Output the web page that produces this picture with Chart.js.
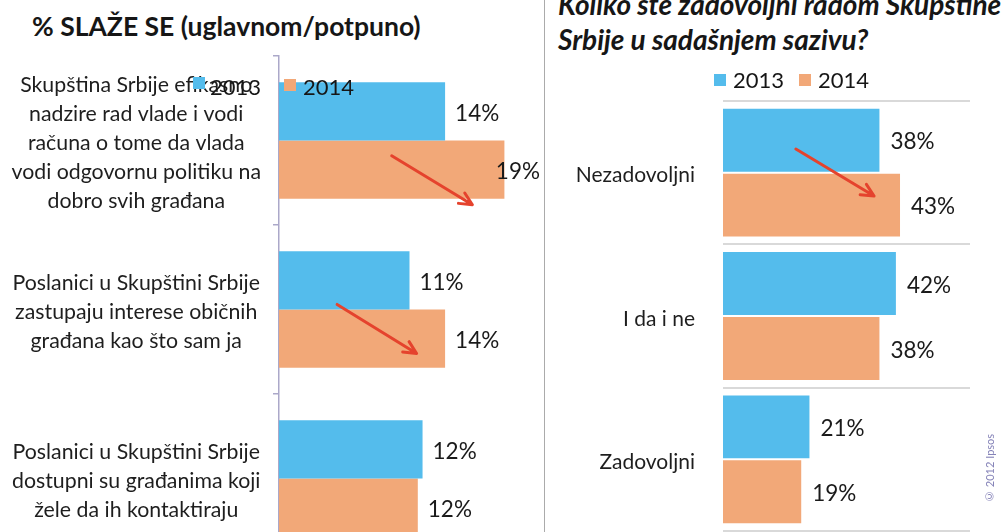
<!DOCTYPE html>
<html>
<head>
<meta charset="utf-8">
<script src="https://cdn.jsdelivr.net/npm/chart.js@4.4.1/dist/chart.umd.min.js"></script>
<style>
  html, body { margin: 0; padding: 0; width: 1008px; height: 532px; overflow: hidden; background: #fff; }
  body { position: relative; font-family: Lato, "Open Sans", sans-serif; color: #161616; }
  .abs { position: absolute; }
  #leftTitle { left: 32px; top: 11px; font-size: 26.5px; font-weight: bold; line-height: 30px; white-space: nowrap; }
  #rightTitle { left: 558px; top: -13px; font-size: 28px; font-weight: bold; font-style: italic; line-height: 35px; white-space: nowrap; }
  .sq { position: absolute; width: 12px; height: 12px; }
  .lg { position: absolute; font-size: 22px; line-height: 22px; white-space: nowrap; }
  #divider { left: 544px; top: 0; width: 1px; height: 532px; background: #ababab; }
  #copy { left: 983px; top: 437px; height: 66px; font-size: 11px; color: #8583b8; writing-mode: vertical-rl; transform: rotate(180deg); white-space: nowrap; }
</style>
</head>
<body>
<div id="leftTitle" class="abs">% SLAŽE SE (uglavnom/potpuno)</div>
<div id="rightTitle" class="abs">Koliko ste zadovoljni radom Skupštine<br>Srbije u sadašnjem sazivu?</div>
<div id="divider" class="abs"></div>
<canvas id="leftChart" class="abs" width="545" height="570" style="left:0;top:0"></canvas>
<canvas id="rightChart" class="abs" width="460" height="532" style="left:548px;top:0"></canvas>
<div id="legends"></div>
<div id="copy" class="abs">© 2012 Ipsos</div>
<script>
// ---- data ----
const seriesLabels = ["2013", "2014"];
const seriesColors = ["#54bcec", "#f2a878"];

const leftCategories = [
  ["Skupština Srbije efikasno", "nadzire rad vlade i vodi", "računa o tome da vlada", "vodi odgovornu politiku na", "dobro svih građana"],
  ["Poslanici u Skupštini Srbije", "zastupaju interese običnih", "građana kao što sam ja"],
  ["Poslanici u Skupštini Srbije", "dostupni su građanima koji", "žele da ih kontaktiraju"]
];
const left2013 = [14, 11, 12.1];
const left2014 = [19, 14, 11.7];

const rightCategories = ["Nezadovoljni", "I da i ne", "Zadovoljni"];
const right2013 = [38, 42, 21];
const right2014 = [43, 38, 19];

// strelice: [vrijednost, pozicija kategorije]
const leftArrows = [
  { from: [9.5, 0.09], to: [16.3, 0.38] },
  { from: [4.9, 0.97], to: [11.6, 1.26] }
];
const rightArrows = [
  { from: [17.7, -0.165], to: [36.7, 0.163] }
];

// ---- legend (html) ----
const legendEl = document.getElementById("legends");
function addLegend(items) {
  items.forEach((it, i) => {
    const sq = document.createElement("div");
    sq.className = "sq";
    sq.style.left = it.sx + "px";
    sq.style.top = it.sy + "px";
    sq.style.background = seriesColors[i];
    legendEl.appendChild(sq);
    const t = document.createElement("div");
    t.className = "lg";
    t.style.left = it.tx + "px";
    t.style.top = it.ty + "px";
    t.textContent = seriesLabels[i];
    legendEl.appendChild(t);
  });
}
addLegend([{ sx: 193, sy: 77, tx: 210, ty: 76 }, { sx: 284, sy: 79, tx: 303, ty: 76 }]);
addLegend([{ sx: 714, sy: 74, tx: 733, ty: 69 }, { sx: 799, sy: 74, tx: 818, ty: 69 }]);

// ---- plugins ----
const valueLabels = {
  id: "valueLabels",
  afterDatasetsDraw(chart, args, opts) {
    const ctx = chart.ctx;
    ctx.save();
    ctx.font = "22.5px Lato";
    ctx.fillStyle = "#1a1a1a";
    ctx.textBaseline = "middle";
    chart.data.datasets.forEach((ds, i) => {
      chart.getDatasetMeta(i).data.forEach((bar, j) => {
        const txt = Math.round(ds.data[j]) + "%";
        const w = ctx.measureText(txt).width;
        let tx = bar.x + opts.gap;
        if (opts.maxRight && tx + w > opts.maxRight) tx = opts.maxRight - w;
        ctx.fillText(txt, tx, bar.y + 2);
      });
    });
    ctx.restore();
  }
};

const trendArrows = {
  id: "trendArrows",
  afterDatasetsDraw(chart, args, opts) {
    const { ctx, scales: { x, y } } = chart;
    ctx.save();
    ctx.strokeStyle = "#e5432d";
    ctx.lineWidth = 3;
    ctx.lineCap = "round";
    ctx.lineJoin = "round";
    (opts.arrows || []).forEach((a) => {
      const x1 = x.getPixelForValue(a.from[0]), y1 = y.getPixelForValue(a.from[1]);
      const x2 = x.getPixelForValue(a.to[0]), y2 = y.getPixelForValue(a.to[1]);
      const ang = Math.atan2(y2 - y1, x2 - x1);
      const head = 14;
      ctx.beginPath();
      ctx.moveTo(x1, y1);
      ctx.lineTo(x2, y2);
      ctx.moveTo(x2 - head * Math.cos(ang - 0.45), y2 - head * Math.sin(ang - 0.45));
      ctx.lineTo(x2, y2);
      ctx.lineTo(x2 - head * Math.cos(ang + 0.45), y2 - head * Math.sin(ang + 0.45));
      ctx.stroke();
    });
    ctx.restore();
  }
};

function makeDatasets(a, b, catPct, barPct) {
  return [a, b].map((d, i) => ({
    label: seriesLabels[i],
    data: d,
    backgroundColor: seriesColors[i],
    categoryPercentage: catPct,
    barPercentage: barPct
  }));
}

// fiksna sirina osi, bez dodatnog paddinga zbog visokih labela
function fixAxis(width) {
  return (s) => {
    s.width = width;
    s.paddingTop = 0;
    s.paddingBottom = 0;
  };
}

// ---- lijevi grafikon ----
new Chart(document.getElementById("leftChart"), {
  type: "bar",
  data: { labels: leftCategories, datasets: makeDatasets(left2013, left2014, 0.69, 1) },
  options: {
    responsive: false,
    animation: false,
    indexAxis: "y",
    layout: { padding: { top: 56, bottom: 7, right: 5, left: 0 } },
    plugins: {
      legend: { display: false },
      tooltip: { enabled: false },
      valueLabels: { gap: 10, maxRight: 540 },
      trendArrows: { arrows: leftArrows }
    },
    scales: {
      x: { display: false, min: 0, max: 22 },
      y: {
        afterFit: fixAxis(279),
        border: { display: true, color: "#aba8c9", width: 1.5 },
        grid: { drawOnChartArea: false, drawTicks: true, tickLength: 6, color: "#aba8c9", lineWidth: 1.5, offset: true },
        ticks: { crossAlign: "center", padding: 12, labelOffset: 3, color: "#1e1e1e", font: { family: "Lato", size: 21.3, lineHeight: 1.36 } }
      }
    }
  },
  plugins: [valueLabels, trendArrows]
});

// ---- desni grafikon ----
new Chart(document.getElementById("rightChart"), {
  type: "bar",
  data: { labels: rightCategories, datasets: makeDatasets(right2013, right2014, 0.905, 0.97) },
  options: {
    responsive: false,
    animation: false,
    indexAxis: "y",
    layout: { padding: { top: 101, bottom: 1, right: 38, left: 0 } },
    plugins: {
      legend: { display: false },
      tooltip: { enabled: false },
      valueLabels: { gap: 11 },
      trendArrows: { arrows: rightArrows }
    },
    scales: {
      x: { display: false, min: 0, max: 60 },
      y: {
        afterFit: fixAxis(175),
        border: { display: false },
        grid: { color: "#d9d9d9", lineWidth: 2, drawTicks: false, offset: true },
        ticks: { crossAlign: "near", padding: 28, labelOffset: 3, color: "#1e1e1e", font: { family: "Lato", size: 21 } }
      }
    }
  },
  plugins: [valueLabels, trendArrows]
});
</script>
</body>
</html>
